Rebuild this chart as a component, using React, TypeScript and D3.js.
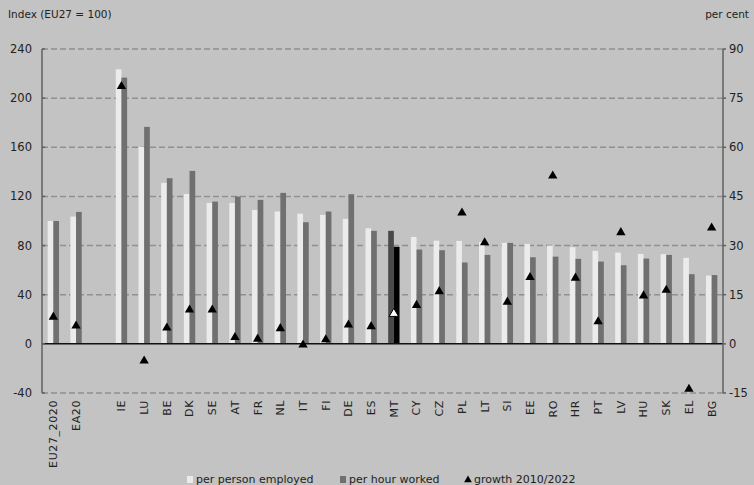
import React from "react";
import * as d3 from "d3";

const categories = ["EU27_2020", "EA20", "", "IE", "LU", "BE", "DK", "SE", "AT", "FR", "NL", "IT", "FI", "DE", "ES", "MT", "CY", "CZ", "PL", "LT", "SI", "EE", "RO", "HR", "PT", "LV", "HU", "SK", "EL", "BG"];
const perPerson = [100, 103.6, null, 223.5, 160.3, 131, 122, 114.7, 114.7, 109, 107.7, 106, 105, 101.7, 94.1, 92, 87, 84, 83.8, 83, 82.2, 81.4, 80, 78.7, 75.7, 74.3, 73.2, 73, 70, 55.6];
const perHour = [100, 107.4, null, 216.7, 176.6, 134.8, 140.8, 115.8, 119.9, 117.2, 122.9, 99, 107.7, 121.8, 92, 79, 76.8, 76.2, 66.2, 72.4, 82.2, 70.5, 71, 69.2, 67, 64, 69.4, 72.4, 56.7, 56];
const growth = [8.2, 5.5, null, 78.6, -5.2, 4.9, 10.4, 10.4, 2.0, 1.5, 4.7, -0.3, 1.3, 5.8, 5.3, 9.2, 11.8, 16, 40, 30.9, 12.8, 20.3, 51.3, 20.1, 6.8, 34, 14.7, 16.4, -13.8, 35.4];
const leftTicks = [-40, 0, 40, 80, 120, 160, 200, 240];
const rightTicks = [-15, 0, 15, 30, 45, 60, 75, 90];
const highlight = "MT";

const W = 754, H = 485;
const L = 42, R = 723, T = 49, B = 393;
const FONT = "DejaVu Sans, sans-serif";

export default function App() {
  const x = d3.scaleBand<string>().domain(categories.map((c, i) => c + "#" + i)).range([L, R]).padding(0);
  const yL = d3.scaleLinear().domain([-40, 240]).range([B, T]);
  const yR = d3.scaleLinear().domain([-15, 90]).range([B, T]);
  const bw = x.bandwidth() * 0.25;
  const tri = d3.symbol().type(d3.symbolTriangle).size(38);

  return (
    <svg width={W} height={H} style={{ position: "absolute", left: 0, top: 0, display: "block" }}>
      <rect x={0} y={0} width={W} height={H} fill="#c3c3c3" />
      <text x={8} y={18} fontFamily={FONT} fontSize={10.5} fill="#222">Index (EU27 = 100)</text>
      <text x={749} y={18} fontFamily={FONT} fontSize={10.5} fill="#222" textAnchor="end">per cent</text>
      {leftTicks.filter(t => t !== 0).map(t => (
        <line key={"g" + t} x1={L} x2={R} y1={yL(t)} y2={yL(t)} stroke="#909090" strokeWidth={1.5} strokeDasharray="6,3" />
      ))}
      {categories.map((c, i) => {
        if (perPerson[i] == null) return null;
        const cx = (x(c + "#" + i) as number) + x.bandwidth() / 2;
        const hl = c === highlight;
        return (
          <g key={"b" + i}>
            <rect x={cx - bw} y={yL(perPerson[i] as number)} width={bw} height={yL(0) - yL(perPerson[i] as number)} fill={hl ? "#4a4a4a" : "#ebebeb"} />
            <rect x={cx} y={yL(perHour[i] as number)} width={bw} height={yL(0) - yL(perHour[i] as number)} fill={hl ? "#000000" : "#707070"} />
          </g>
        );
      })}
      <line x1={L} x2={R} y1={yL(0)} y2={yL(0)} stroke="#111" strokeWidth={1.5} />
      <line x1={L} x2={L} y1={T} y2={B} stroke="#606060" strokeWidth={1.5} />
      <line x1={R} x2={R} y1={T} y2={B} stroke="#606060" strokeWidth={1.5} />
      {leftTicks.map(t => (
        <g key={"l" + t}>
          <line x1={L} x2={L + 3} y1={yL(t)} y2={yL(t)} stroke="#606060" strokeWidth={1.5} />
          <text x={32} y={yL(t)} dy="0.35em" textAnchor="end" fontFamily={FONT} fontSize={11.5} fill="#222">{t}</text>
        </g>
      ))}
      {rightTicks.map(t => (
        <g key={"r" + t}>
          <line x1={R} x2={R + 3} y1={yR(t)} y2={yR(t)} stroke="#606060" strokeWidth={1.5} />
          <text x={729} y={yR(t)} dy="0.35em" textAnchor="start" fontFamily={FONT} fontSize={11.5} fill="#222">{t}</text>
        </g>
      ))}
      {categories.map((c, i) => {
        if (growth[i] == null) return null;
        const cx = (x(c + "#" + i) as number) + x.bandwidth() / 2;
        const hl = c === highlight;
        return (
          <path key={"t" + i} d={tri() as string} transform={`translate(${cx},${yR(growth[i] as number)})`} fill={hl ? "#ffffff" : "#000000"} stroke="#000" strokeWidth={hl ? 1 : 0} />
        );
      })}
      {categories.map((c, i) => {
        if (!c) return null;
        const cx = (x(c + "#" + i) as number) + x.bandwidth() / 2;
        return (
          <text key={"x" + i} transform={`translate(${cx},400) rotate(-90)`} textAnchor="end" dy="0.35em" fontFamily={FONT} fontSize={11} letterSpacing={0.6} fill="#222">{c}</text>
        );
      })}
      <g fontFamily={FONT} fontSize={11} fill="#222">
        <rect x={187} y={476} width={6} height={7} fill="#ebebeb" />
        <text x={196} y={483}>per person employed</text>
        <rect x={340} y={476} width={6} height={7} fill="#707070" />
        <text x={349} y={483}>per hour worked</text>
        <path d={d3.symbol().type(d3.symbolTriangle).size(26)() as string} transform="translate(468,480)" fill="#000" />
        <text x={474} y={483}>growth 2010/2022</text>
      </g>
    </svg>
  );
}
